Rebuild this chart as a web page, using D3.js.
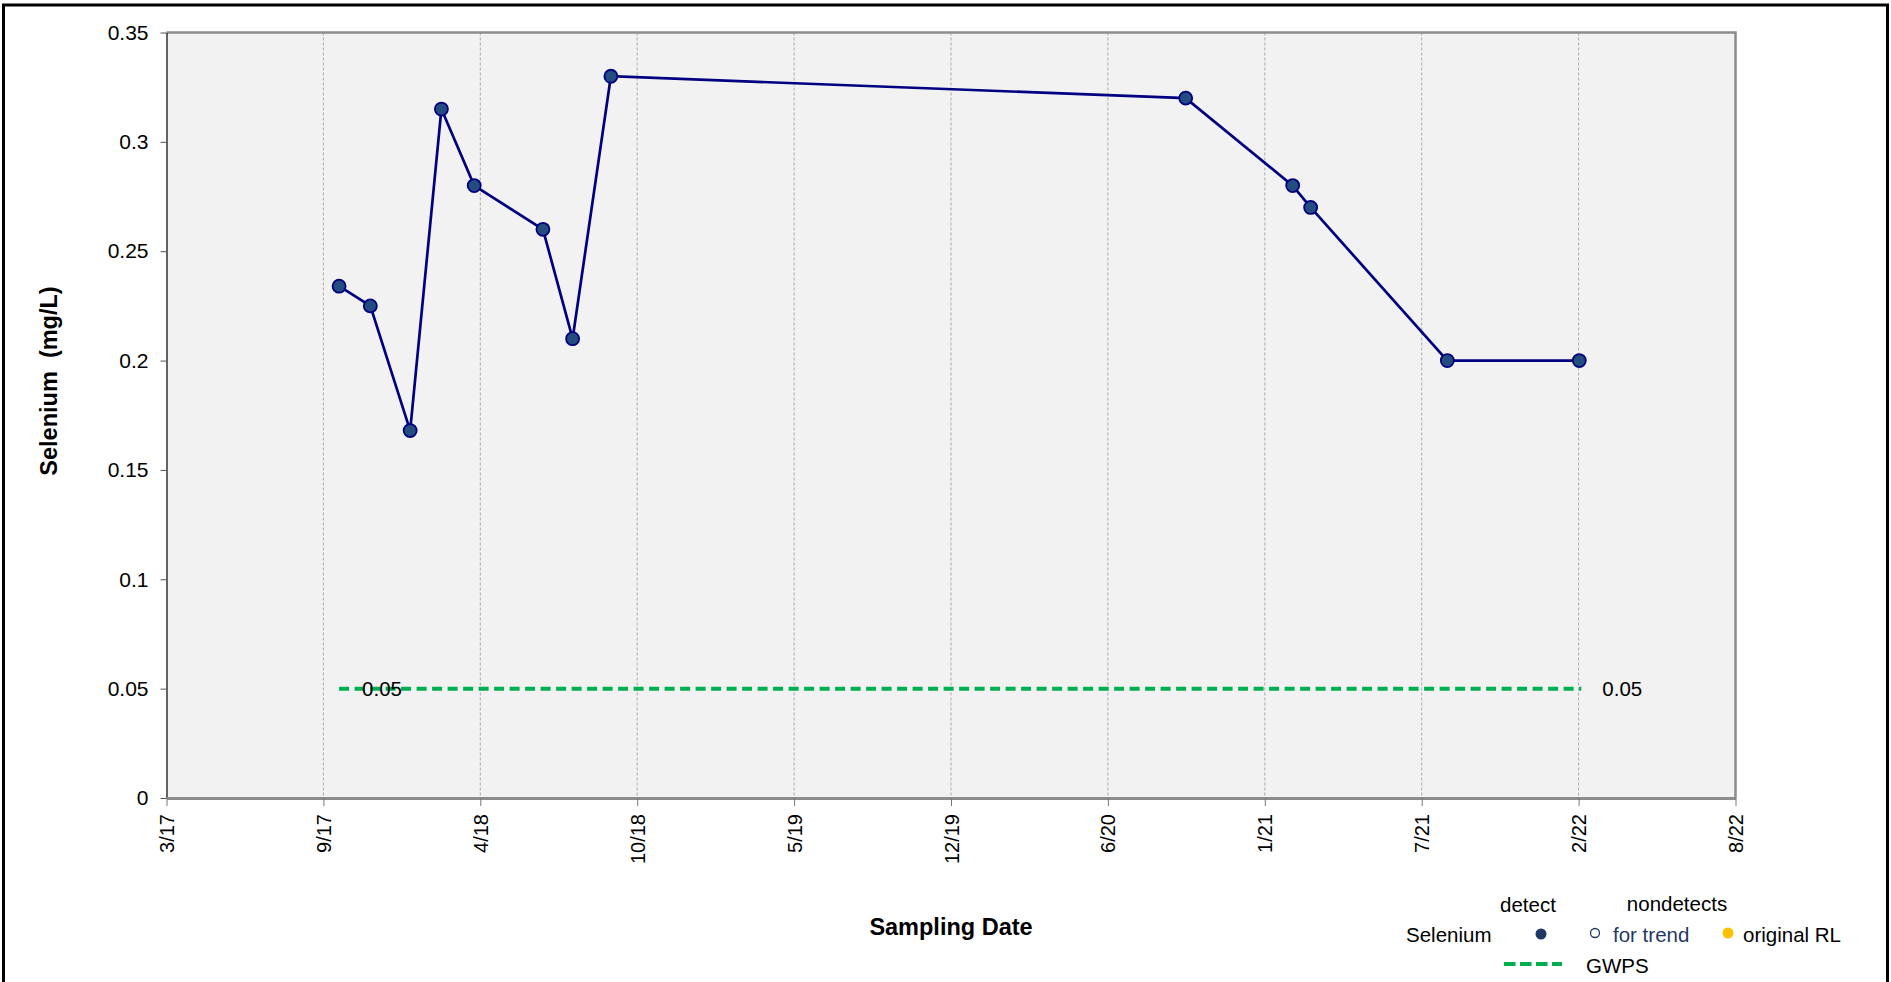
<!DOCTYPE html>
<html><head><meta charset="utf-8">
<script src="https://cdn.jsdelivr.net/npm/d3@7"></script>
<style>html,body{margin:0;padding:0;background:#fff;overflow:hidden}</style>
</head><body><svg id="c" width="1891" height="982"></svg>
<script>
// ---- data ----
const sampleDates = ["2017-10-08","2017-11-17","2018-01-07","2018-02-16","2018-03-30","2018-06-26","2018-08-03","2018-09-21","2020-09-26","2021-02-10","2021-03-05","2021-08-27","2022-02-12"];
const seleniumValues = [0.234,0.225,0.168,0.315,0.28,0.26,0.21,0.33,0.32,0.28,0.27,0.2,0.2];
const gwpsValue = 0.05;
const xTickLabels = ["3/17","9/17","4/18","10/18","5/19","12/19","6/20","1/21","7/21","2/22","8/22"];
const yTickValues = [0,0.05,0.1,0.15,0.2,0.25,0.3,0.35];
const axisStart = "2017-03-01", axisEnd = "2022-08-31";

// ---- setup ----
const FONT = "'Liberation Sans', Arial, sans-serif";
const parse = d3.timeParse("%Y-%m-%d");
const dates = sampleDates.map(parse);
const pts = dates.map((d,i)=>({d, v: seleniumValues[i]}));
const L = 166.5, R = 1735.5, T = 32.5, B = 798;
const t0 = parse(axisStart), t1 = parse(axisEnd);
const x = d3.scaleTime().domain([t0,t1]).range([L,R]);
const y = d3.scaleLinear().domain([0,0.35]).range([B,T]);
const tickDates = d3.range(xTickLabels.length).map(i => new Date(+t0 + i*(t1-t0)/(xTickLabels.length-1)));

const svg = d3.select("#c").style("font-family", FONT);
svg.append("rect").attr("width",1891).attr("height",982).attr("fill","#fff");
// outer frame
svg.append("rect").attr("x",3.5).attr("y",5).attr("width",1884).attr("height",1000)
  .attr("fill","none").attr("stroke","#000").attr("stroke-width",3);

// plot background
svg.append("rect").attr("x",L).attr("y",T).attr("width",R-L).attr("height",B-T).attr("fill","#f2f2f2");

// vertical gridlines
svg.append("g").selectAll("line").data(tickDates.slice(1,-1)).join("line")
  .attr("x1",d=>x(d)).attr("x2",d=>x(d)).attr("y1",T).attr("y2",B)
  .attr("stroke","#aaaaaa").attr("stroke-width",1).attr("stroke-dasharray","3,2");

// top and right border
svg.append("path").attr("d",`M${L},${T}H${R}V${B}`).attr("fill","none")
  .attr("stroke","#8c8c8c").attr("stroke-width",2.5);

// GWPS line
const gy = y(gwpsValue);
svg.append("line").attr("x1",x(dates[0])).attr("x2",x(dates[dates.length-1])+2)
  .attr("y1",gy).attr("y2",gy).attr("stroke","#00b050").attr("stroke-width",4)
  .attr("stroke-dasharray","10,5.5");
svg.append("text").attr("x",x(dates[0])+23).attr("y",gy).attr("dy","0.35em")
  .attr("font-size",20.5).attr("fill","#000").text(String(gwpsValue));
svg.append("text").attr("x",x(dates[dates.length-1])+23).attr("y",gy).attr("dy","0.35em")
  .attr("font-size",20.5).attr("fill","#000").text(String(gwpsValue));

// series
svg.append("path").datum(pts)
  .attr("d", d3.line().x(p=>x(p.d)).y(p=>y(p.v)))
  .attr("fill","none").attr("stroke","#000080").attr("stroke-width",2.7);
svg.append("g").selectAll("circle").data(pts).join("circle")
  .attr("cx",p=>x(p.d)).attr("cy",p=>y(p.v)).attr("r",6.5)
  .attr("fill","#234d80").attr("stroke","#000080").attr("stroke-width",1.8);

// y axis
const ya = svg.append("g").attr("transform",`translate(${L},0)`)
  .call(d3.axisLeft(y).tickValues(yTickValues).tickFormat(d=>String(d)).tickSize(6).tickSizeOuter(0));
ya.select(".domain").attr("stroke","#000").attr("stroke-width",1.2);
ya.selectAll(".tick line").attr("stroke","#555");
ya.selectAll(".tick text").attr("x",-18).attr("font-size",21).attr("font-family",FONT).attr("fill","#000");

// x axis
const xa = svg.append("g").attr("transform",`translate(0,${B})`)
  .call(d3.axisBottom(x).tickValues(tickDates).tickFormat((d,i)=>xTickLabels[i]).tickSize(8).tickSizeOuter(0));
xa.select(".domain").attr("stroke","#8c8c8c").attr("stroke-width",3);
xa.selectAll(".tick line").attr("stroke","#777");
xa.selectAll(".tick text").attr("transform","rotate(-90)").attr("text-anchor","end")
  .attr("x",-16).attr("y",0).attr("dy","0.35em").attr("font-size",20).attr("font-family",FONT).attr("fill","#000");

// axis titles
svg.append("text").attr("x",951).attr("y",935).attr("text-anchor","middle")
  .attr("font-size",23.5).attr("font-weight","bold").text("Sampling Date");
svg.append("text").attr("transform","translate(57,381) rotate(-90)").attr("text-anchor","middle")
  .style("white-space","pre").attr("xml:space","preserve")
  .attr("font-size",23.5).attr("font-weight","bold").text("Selenium  (mg/L)");

// legend
const lg = svg.append("g").attr("font-size",20.5);
lg.append("text").attr("x",1528).attr("y",912).attr("text-anchor","middle").text("detect");
lg.append("text").attr("x",1677).attr("y",911).attr("text-anchor","middle").text("nondetects");
lg.append("text").attr("x",1406).attr("y",942).text("Selenium");
lg.append("circle").attr("cx",1541).attr("cy",934).attr("r",5.5).attr("fill","#1f3864");
lg.append("circle").attr("cx",1595).attr("cy",933).attr("r",4.5).attr("fill","#fff").attr("stroke","#1f3864").attr("stroke-width",1.3);
lg.append("text").attr("x",1613).attr("y",942).attr("fill","#1f3864").text("for trend");
lg.append("circle").attr("cx",1728).attr("cy",933).attr("r",5.5).attr("fill","#ffc000");
lg.append("text").attr("x",1743).attr("y",942).text("original RL");
lg.append("line").attr("x1",1504).attr("x2",1562).attr("y1",964).attr("y2",964)
  .attr("stroke","#00b050").attr("stroke-width",4).attr("stroke-dasharray","11.5,4.5");
lg.append("text").attr("x",1586).attr("y",973).text("GWPS");
</script></body></html>
